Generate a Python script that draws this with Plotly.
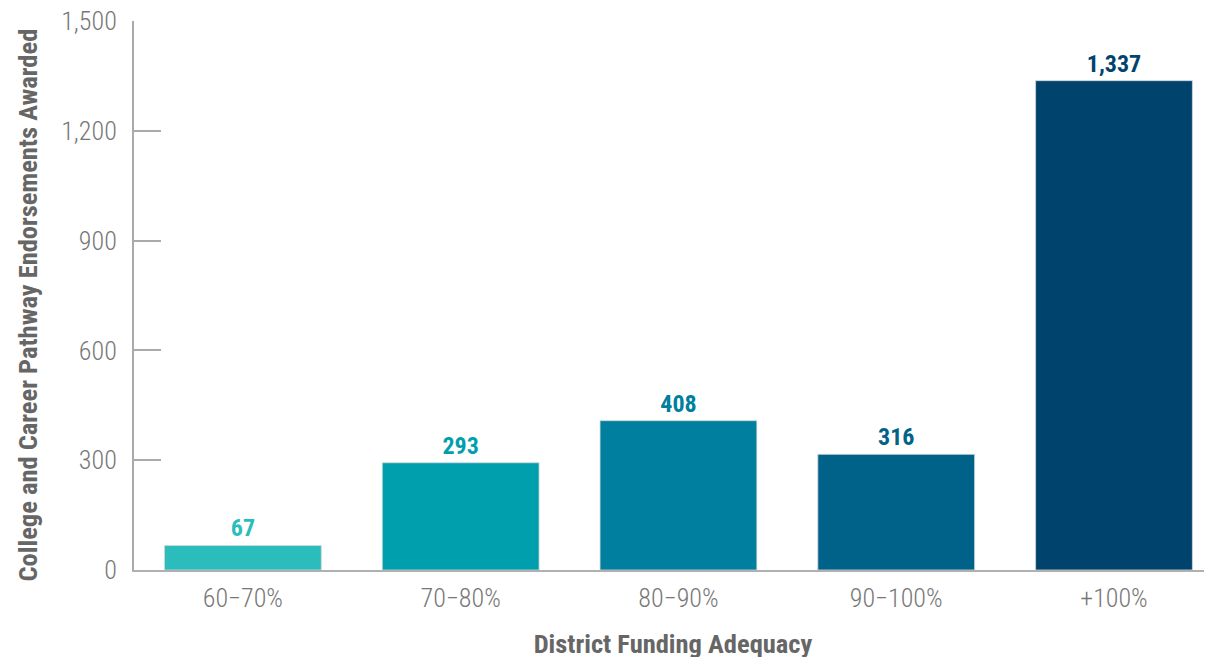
import plotly.graph_objects as go

categories = ["60\u221270%", "70\u221280%", "80\u221290%", "90\u2212100%", "+100%"]
values = [67, 293, 408, 316, 1337]
colors = ["#2bbdbb", "#009fae", "#007f9e", "#006288", "#00446e"]
y_ticks = [0, 300, 600, 900, 1200, 1500]
y_tick_labels = ["0", "300", "600", "900", "1,200", "1,500"]

FONT = "Roboto Condensed, Liberation Sans Narrow, DejaVu Sans Condensed, Roboto, sans-serif"

fig = go.Figure(
    go.Bar(
        x=categories,
        y=values,
        marker=dict(color=colors, line=dict(color="rgba(210,215,220,0.8)", width=1)),
        text=[f"{v:,}" for v in values],
        textposition="outside",
        textfont=dict(family=FONT, size=24, color=colors, weight="bold"),
        cliponaxis=False,
        width=0.72,
    )
)

fig.update_layout(
    width=1212,
    height=657,
    margin=dict(l=126, r=8, t=13, b=95, autoexpand=False),
    paper_bgcolor="white",
    plot_bgcolor="white",
    showlegend=False,
    font=dict(family=FONT),
    xaxis=dict(
        range=[-0.5, 4.45],
        showline=True,
        linecolor="#b0b0b0",
        linewidth=2,
        showgrid=False,
        ticks="",
        tickfont=dict(family=FONT, size=26, color="#777777", weight=300),
        ticklabelstandoff=4,
        automargin=False,
        title=dict(
            text="District Funding Adequacy",
            font=dict(family=FONT, size=26.5, color="#666666", weight="bold"),
            standoff=22,
        ),
    ),
    yaxis=dict(
        range=[0, 1500],
        tickvals=y_ticks,
        ticktext=y_tick_labels,
        showline=True,
        linecolor="#aaaaaa",
        linewidth=2,
        showgrid=False,
        zeroline=False,
        ticks="inside",
        ticklen=27,
        tickwidth=2,
        tickcolor="#aaaaaa",
        tickfont=dict(family=FONT, size=26, color="#777777", weight=300),
        ticklabelstandoff=10,
        ticklabeloverflow="allow",
        automargin=False,
    ),
    annotations=[
        dict(
            text="College and Career Pathway Endorsements Awarded",
            xref="paper", yref="paper", x=0, y=0.5,
            xanchor="center", yanchor="middle",
            xshift=-107, yshift=-10,
            textangle=-90,
            showarrow=False,
            font=dict(family=FONT, size=26.5, color="#666666", weight="bold"),
        )
    ],
)

fig.write_html("out.html")
